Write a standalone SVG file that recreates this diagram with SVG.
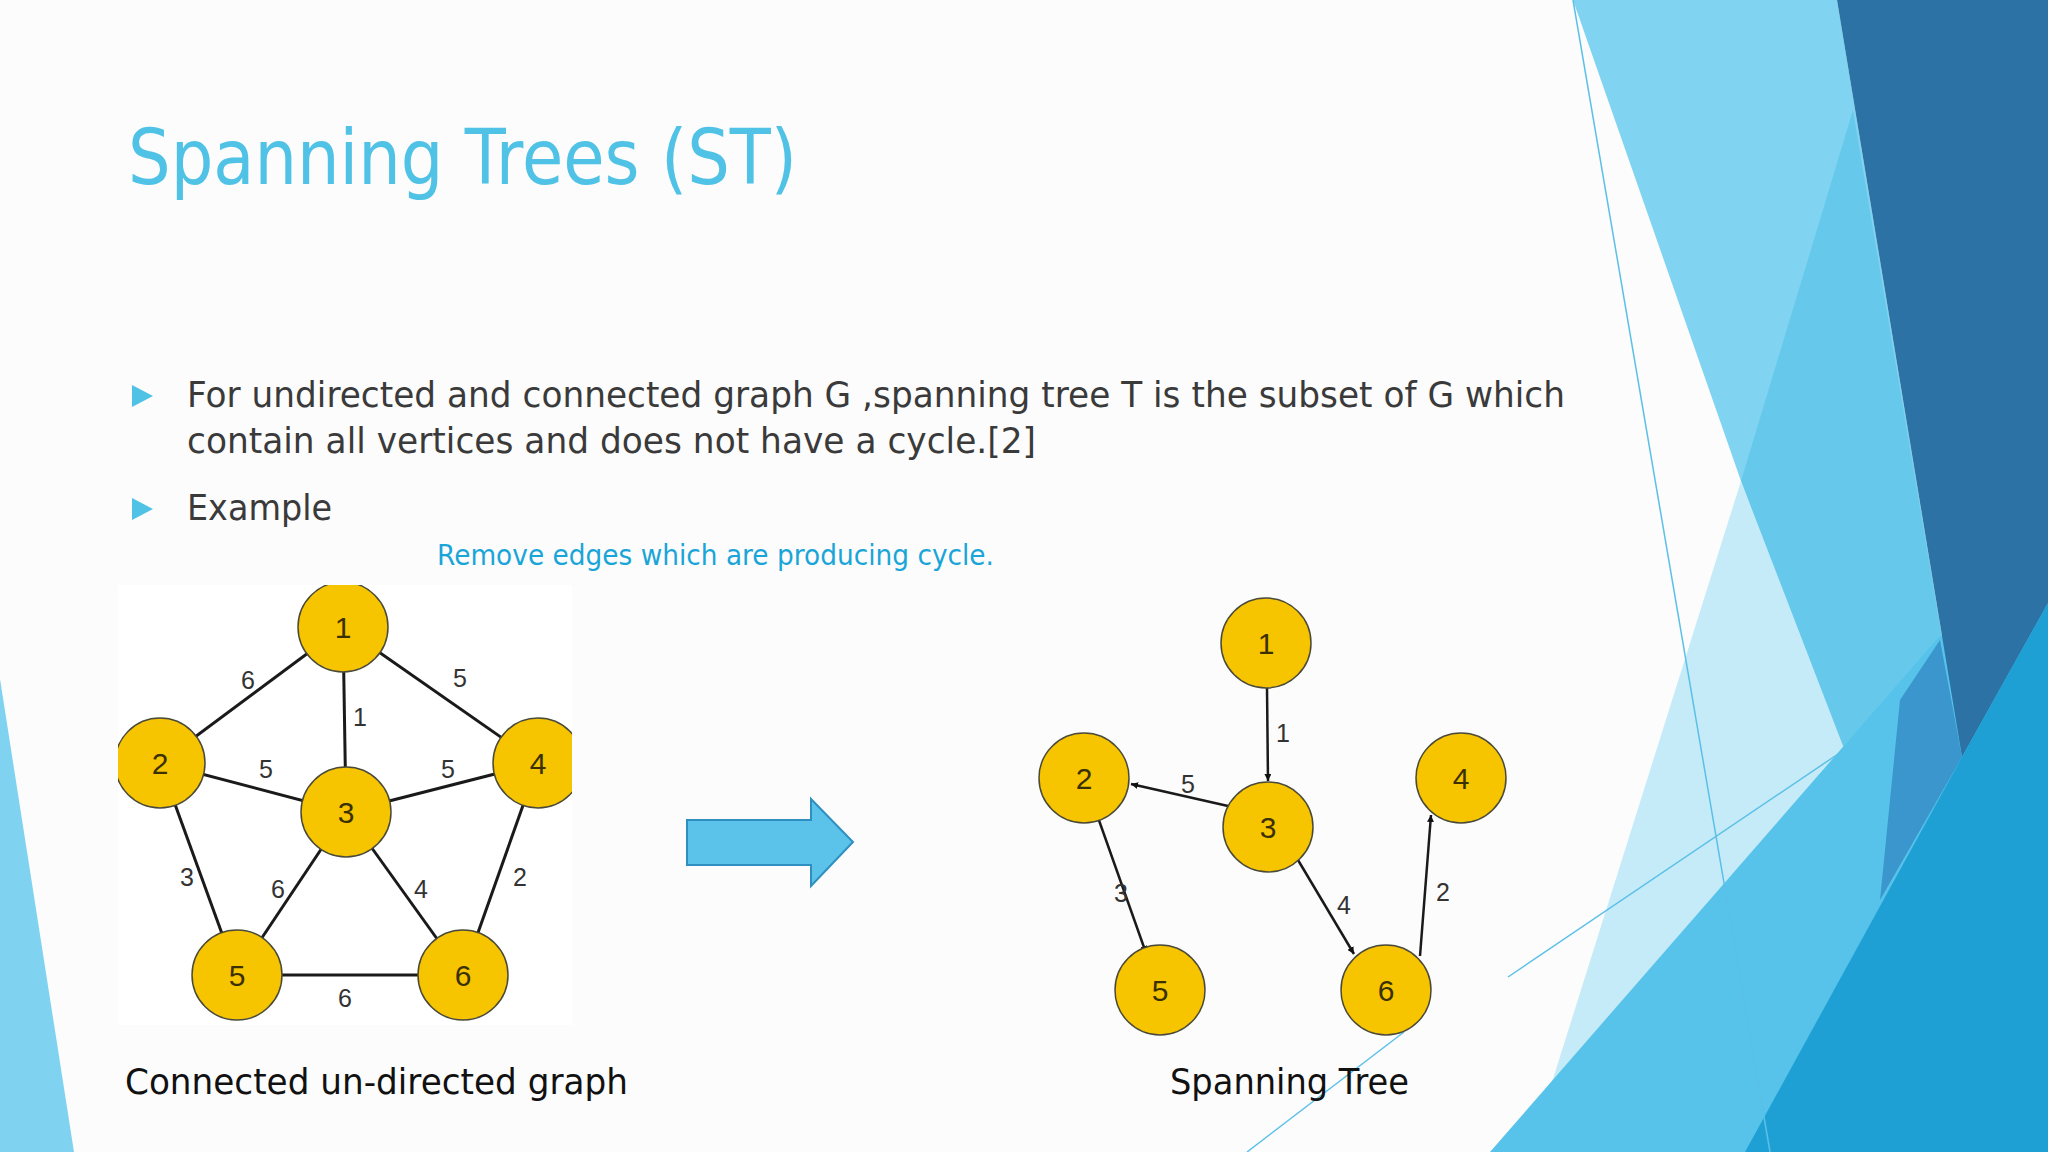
<svg xmlns="http://www.w3.org/2000/svg" width="2048" height="1152" viewBox="0 0 2048 1152">
<style>
.nd{fill:#f7c400;stroke:#4a4a3a;stroke-width:1.5}
.nl{font-family:"Liberation Sans",Arial,sans-serif;font-size:30px;fill:#3a3000;text-anchor:middle;dominant-baseline:central}
.el{font-family:"Liberation Sans",Arial,sans-serif;font-size:25px;fill:#333;text-anchor:middle;dominant-baseline:central}
.e{stroke:#1a1a1a;stroke-width:3;fill:none}
.ea{stroke:#1a1a1a;stroke-width:2.5;fill:none;marker-end:url(#ah)}
.t{font-family:"DejaVu Sans",Verdana,sans-serif}
</style>
<defs>
<marker id="ah" viewBox="0 0 10 10" refX="10" refY="5" markerWidth="7" markerHeight="7" markerUnits="userSpaceOnUse" orient="auto"><path d="M0,0L10,5L0,10z" fill="#111"/></marker>
<clipPath id="lc"><rect x="118" y="585" width="454" height="440"/></clipPath>
</defs>
<rect width="2048" height="1152" fill="#fcfcfc"/>
<g id="background">
<polygon points="0,679 74,1152 0,1152" fill="#7fd3f0"/>
<polygon points="1573,0 1837,0 1962,757 1841,757 1741,481" fill="#80d4f1"/>
<polygon points="1853,110 1962,757 1841,757 1741,481" fill="#66c9ec"/>
<polygon points="1741,481 1860,790 1660,1152 1530,1152" fill="#c6ebf8"/>
<polygon points="1490,1152 1937,639 2048,560 2048,1152" fill="#57c3ea"/>
<polygon points="1837,0 2048,0 2048,603 1962,757" fill="#2c72a5"/>
<polygon points="1940,640 1962,757 1880,900 1900,700" fill="#3a96cc"/>
<polygon points="2048,603 1962,757 1745,1152 2048,1152" fill="#1fa0d5"/>
<line x1="1573" y1="0" x2="1770" y2="1152" stroke="#5bc0e8" stroke-width="1.5"/>
<line x1="1508" y1="977" x2="1841" y2="752" stroke="#5bc0e8" stroke-width="1.5"/>
<line x1="1247" y1="1152" x2="1404" y2="1032" stroke="#5bc0e8" stroke-width="1.5"/>
</g>
<g id="title"><text class="t" x="128" y="184" font-size="76" fill="#4fc2e6" textLength="669" lengthAdjust="spacingAndGlyphs">Spanning Trees (ST)</text></g>
<g id="bullets" class="t" font-size="36" fill="#3a3a3a">
<polygon points="132,385 153,396 132,407" fill="#4fc2e6"/>
<polygon points="132,498 153,509 132,520" fill="#4fc2e6"/>
<text x="187" y="407" textLength="1378" lengthAdjust="spacingAndGlyphs">For undirected and connected graph G ,spanning tree T is the subset of G which</text>
<text x="187" y="453" textLength="849" lengthAdjust="spacingAndGlyphs">contain all vertices and does not have a cycle.[2]</text>
<text x="187" y="520" textLength="145" lengthAdjust="spacingAndGlyphs">Example</text>
<text x="437" y="565" font-size="28" fill="#1aa5d8" textLength="557" lengthAdjust="spacingAndGlyphs">Remove edges which are producing cycle.</text>
<text x="125" y="1094" fill="#111" textLength="503" lengthAdjust="spacingAndGlyphs">Connected un-directed graph</text>
<text x="1170" y="1094" fill="#111" textLength="239" lengthAdjust="spacingAndGlyphs">Spanning Tree</text>
</g>
<g id="left-graph" clip-path="url(#lc)">
<rect x="118" y="585" width="454" height="440" fill="#fff"/>
<g id="connectors-left">
<line class="e" x1="343" y1="627" x2="160" y2="763"/>
<line class="e" x1="343" y1="627" x2="538" y2="763"/>
<line class="e" x1="343" y1="627" x2="346" y2="812"/>
<line class="e" x1="160" y1="763" x2="346" y2="812"/>
<line class="e" x1="538" y1="763" x2="346" y2="812"/>
<line class="e" x1="160" y1="763" x2="237" y2="975"/>
<line class="e" x1="346" y1="812" x2="237" y2="975"/>
<line class="e" x1="346" y1="812" x2="463" y2="975"/>
<line class="e" x1="538" y1="763" x2="463" y2="975"/>
<line class="e" x1="237" y1="975" x2="463" y2="975"/>
<text class="el" x="248" y="680">6</text><text class="el" x="460" y="678">5</text>
<text class="el" x="360" y="717">1</text><text class="el" x="266" y="769">5</text>
<text class="el" x="448" y="769">5</text><text class="el" x="187" y="877">3</text>
<text class="el" x="278" y="889">6</text><text class="el" x="421" y="889">4</text>
<text class="el" x="520" y="877">2</text><text class="el" x="345" y="998">6</text>
</g>
<g id="L1"><circle class="nd" cx="343" cy="627" r="45"/><text class="nl" x="343" y="627">1</text></g>
<g id="L2"><circle class="nd" cx="160" cy="763" r="45"/><text class="nl" x="160" y="763">2</text></g>
<g id="L3"><circle class="nd" cx="346" cy="812" r="45"/><text class="nl" x="346" y="812">3</text></g>
<g id="L4"><circle class="nd" cx="538" cy="763" r="45"/><text class="nl" x="538" y="763">4</text></g>
<g id="L5"><circle class="nd" cx="237" cy="975" r="45"/><text class="nl" x="237" y="975">5</text></g>
<g id="L6"><circle class="nd" cx="463" cy="975" r="45"/><text class="nl" x="463" y="975">6</text></g>
</g>
<g id="big-arrow"><polygon points="687,820 811,820 811,799 853,842 811,886 811,865 687,865" fill="#5bc3ea" stroke="#2e8fc0" stroke-width="2"/></g>
<g id="connectors-right">
<line class="ea" x1="1267" y1="688" x2="1268" y2="781"/>
<line class="ea" x1="1228" y1="806" x2="1131" y2="784"/>
<line class="ea" x1="1084" y1="778" x2="1146" y2="953" transform="translate(0,0)"/>
<line class="ea" x1="1298" y1="860" x2="1354" y2="954"/>
<line class="ea" x1="1420" y1="956" x2="1431" y2="815"/>
<text class="el" x="1283" y="733">1</text><text class="el" x="1188" y="784">5</text>
<text class="el" x="1121" y="893">3</text><text class="el" x="1344" y="905">4</text>
<text class="el" x="1443" y="892">2</text>
</g>
<g id="R1"><circle class="nd" cx="1266" cy="643" r="45"/><text class="nl" x="1266" y="643">1</text></g>
<g id="R2"><circle class="nd" cx="1084" cy="778" r="45"/><text class="nl" x="1084" y="778">2</text></g>
<g id="R3"><circle class="nd" cx="1268" cy="827" r="45"/><text class="nl" x="1268" y="827">3</text></g>
<g id="R4"><circle class="nd" cx="1461" cy="778" r="45"/><text class="nl" x="1461" y="778">4</text></g>
<g id="R5"><circle class="nd" cx="1160" cy="990" r="45"/><text class="nl" x="1160" y="990">5</text></g>
<g id="R6"><circle class="nd" cx="1386" cy="990" r="45"/><text class="nl" x="1386" y="990">6</text></g>
</svg>
